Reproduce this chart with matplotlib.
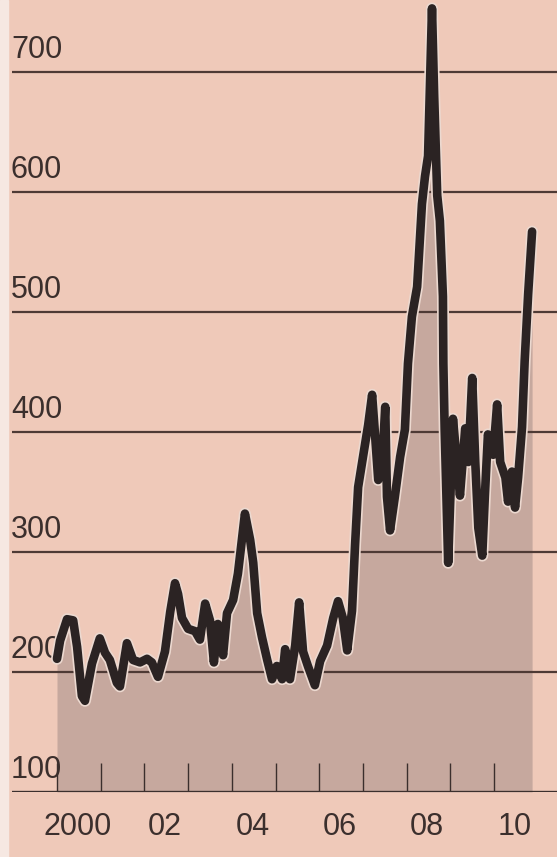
import matplotlib
matplotlib.use("Agg")
import matplotlib.pyplot as plt
import matplotlib.patheffects as pe
from matplotlib.transforms import blended_transform_factory

# decimal year and index level
dates = [2000.00, 2000.07, 2000.23, 2000.37, 2000.46, 2000.57, 2000.64, 2000.80,
         2000.98, 2001.10, 2001.21, 2001.37, 2001.44, 2001.60, 2001.74, 2001.90,
         2002.06, 2002.17, 2002.31, 2002.47, 2002.59, 2002.70, 2002.77, 2002.86,
         2003.00, 2003.16, 2003.27, 2003.39, 2003.50, 2003.59, 2003.68, 2003.80,
         2003.89, 2004.03, 2004.14, 2004.30, 2004.42, 2004.49, 2004.58, 2004.69,
         2004.81, 2004.92, 2005.03, 2005.15, 2005.22, 2005.33, 2005.45, 2005.54,
         2005.63, 2005.74, 2005.90, 2006.02, 2006.18, 2006.32, 2006.43, 2006.54,
         2006.64, 2006.75, 2006.82, 2006.89, 2007.00, 2007.12, 2007.21, 2007.28,
         2007.35, 2007.44, 2007.51, 2007.55, 2007.62, 2007.73, 2007.85, 2007.96,
         2008.03, 2008.12, 2008.24, 2008.35, 2008.42, 2008.49, 2008.58, 2008.63,
         2008.70, 2008.76, 2008.83, 2008.84, 2008.87, 2008.95, 2009.06, 2009.15,
         2009.22, 2009.34, 2009.41, 2009.50, 2009.57, 2009.64, 2009.73, 2009.79,
         2009.86, 2009.98, 2010.07, 2010.14, 2010.26, 2010.32, 2010.41, 2010.48,
         2010.55, 2010.64, 2010.70, 2010.78, 2010.87]
values = [211, 226, 244, 243, 221, 180, 176, 207,
          228, 216, 210, 191, 188, 224, 210, 208,
          211, 208, 196, 217, 250, 274, 265, 245,
          236, 234, 227, 257, 243, 208, 240, 214,
          249, 260, 282, 332, 310, 291, 249, 229,
          210, 194, 205, 194, 219, 194, 222, 258,
          217, 205, 189, 209, 222, 245, 259, 245,
          218, 251, 306, 354, 379, 406, 431, 396,
          360, 373, 421, 346, 318, 346, 379, 402,
          457, 496, 521, 590, 613, 630, 753, 680,
          597, 576, 513, 457, 402, 291, 411, 374,
          347, 403, 375, 445, 375, 320, 297, 347,
          398, 381, 423, 375, 362, 342, 367, 337,
          362, 404, 459, 515, 567]

grid_levels = [200, 300, 400, 500, 600, 700]
y_labels = ["100", "200", "300", "400", "500", "600", "700"]
label_levels = [100, 200, 300, 400, 500, 600, 700]
tick_years = list(range(2000, 2011))
x_labels = ["2000", "02", "04", "06", "08", "10"]
x_label_years = [2000, 2002, 2004, 2006, 2008, 2010]

bg = "#efc9b9"
ink = "#3b2f2d"
font = ["Liberation Sans", "DejaVu Sans"]

fig = plt.figure(figsize=(5.57, 8.57), dpi=100, facecolor=bg)
ax = fig.add_axes([0.0215, 65 / 857, 0.9785, 792 / 857])
ax.set_facecolor(bg)
ax.set_xlim(1998.97, 2011.44)
ax.set_ylim(100, 760)

ax.fill_between(dates, 100, values, color="#c6a89e", lw=0, zorder=1)

for lvl in grid_levels:
    ax.axhline(lvl, color="#4e3a35", lw=1.6, zorder=2)
ax.axhline(100, color=ink, lw=2.4, zorder=4)
ax.vlines(tick_years, 100, 124, color=ink, lw=1.0, zorder=3)

ax.plot(dates, values, color="#2b2323", lw=6.2, solid_joinstyle="round",
        solid_capstyle="round", zorder=5,
        path_effects=[pe.Stroke(linewidth=8.6, foreground="#ecd9d0"), pe.Normal()])

for s in ax.spines.values():
    s.set_visible(False)
ax.set_xticks([])
ax.set_yticks([])

tr = blended_transform_factory(fig.transFigure, ax.transData)
for lbl, lvl in zip(y_labels, label_levels):
    ax.text(11 / 557, lvl + 12, lbl, transform=tr, ha="left", va="baseline",
            fontsize=22, color=ink, family=font)

for lbl, yr in zip(x_labels, x_label_years):
    ax.text(yr + 0.47, 71, lbl, ha="center", va="center", fontsize=22,
            color=ink, family=font, clip_on=False)

# whitish scan border on the left edge
fig.patches.append(plt.Rectangle((0, 0), 8 / 557, 1, transform=fig.transFigure,
                                 color="#f6e8e2", zorder=0))

fig.savefig("out.png", dpi=100, facecolor=bg)
